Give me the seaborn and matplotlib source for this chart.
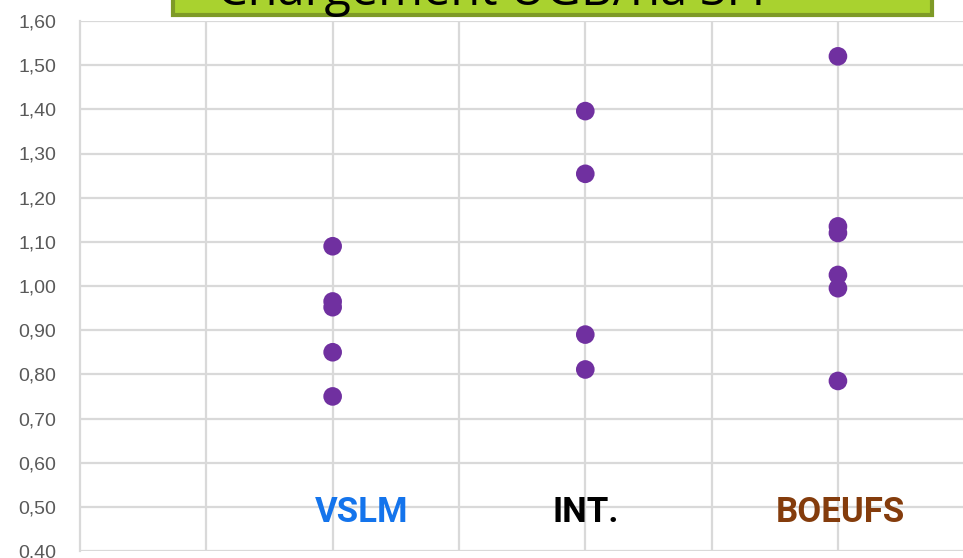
import numpy as np
import pandas as pd
import matplotlib
matplotlib.use("Agg")
import matplotlib.pyplot as plt
from matplotlib.patches import Rectangle
import seaborn as sns

# Data (x = group position on the axis)
groups = ["VSLM", "INT.", "BOEUFS"]
group_pos = [2, 4, 6]
group_colors = ["#1474EC", "#000000", "#843C0C"]
vslm = [1.09, 0.965, 0.952, 0.85, 0.75]
inter = [1.396, 1.254, 0.89, 0.811]
boeufs = [1.52, 1.135, 1.12, 1.025, 0.995, 0.785]
y_ticks = [0.40, 0.50, 0.60, 0.70, 0.80, 0.90, 1.00, 1.10, 1.20, 1.30, 1.40, 1.50, 1.60]
title = "Chargement UGB/ha SFP"

rows = []
for pos, vals in zip(group_pos, [vslm, inter, boeufs]):
    for v in vals:
        rows.append({"x": pos, "y": v})
df = pd.DataFrame(rows)

sns.set_style("white")
plt.rcParams["font.family"] = ["Open Sans", "DejaVu Sans"]

fig = plt.figure(figsize=(9.63, 5.58), dpi=100)
ax = fig.add_axes([80 / 963, 7 / 558, 1 - 80 / 963, (551 - 21) / 558])

sns.scatterplot(data=df, x="x", y="y", ax=ax, color="#7030A0", s=180,
                edgecolor="none", zorder=3)

ax.set_xlim(0, 6.99)
ax.set_ylim(0.40, 1.60)
ax.set_xticks(range(1, 7))
ax.set_yticks(y_ticks)
ax.set_yticklabels([f"{t:.2f}".replace(".", ",") for t in y_ticks],
                   fontsize=14, color="#595959", family=["Liberation Sans", "DejaVu Sans"])
ax.set_xticklabels([])
ax.tick_params(length=0)
ax.tick_params(axis="y", pad=17)
ax.set_xlabel("")
ax.set_ylabel("")
ax.grid(True, color="#D9D9D9", linewidth=1.6)
ax.set_axisbelow(True)
for side in ["top", "right", "bottom"]:
    ax.spines[side].set_visible(False)
ax.spines["left"].set_color("#D9D9D9")
ax.spines["left"].set_linewidth(1.6)

# Group labels
label_x = [2.23, 4.0, 6.02]
for name, lx, c in zip(groups, label_x, group_colors):
    ax.text(lx, 0.488, name, ha="center", va="center", fontsize=25,
            fontweight="bold", color=c, family=["Roboto", "DejaVu Sans"])

# Title box (mostly outside the top of the image)
box = Rectangle((173 / 963, 1 - 15 / 558), (932 - 173) / 963, 0.2,
                transform=fig.transFigure, facecolor="#A9D22F",
                edgecolor="#7E9A26", linewidth=3, clip_on=False)
fig.patches.append(box)
fig.text(499 / 963, 1 - 5 / 558, title, ha="center", va="baseline",
         fontsize=35, color="black")

fig.savefig("out.png", dpi=100)
